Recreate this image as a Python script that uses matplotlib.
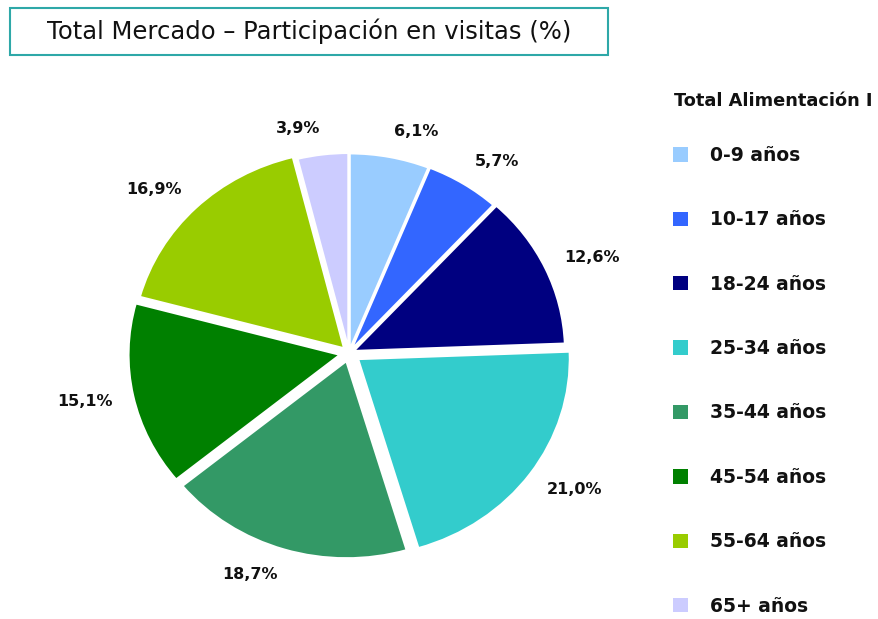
import matplotlib
matplotlib.use("Agg")
import matplotlib.pyplot as plt
from matplotlib.patches import Rectangle, Patch

categories = ["0-9 años", "10-17 años", "18-24 años", "25-34 años",
              "35-44 años", "45-54 años", "55-64 años", "65+ años"]
values = [6.1, 5.7, 12.6, 21.0, 18.7, 15.1, 16.9, 3.9]
value_labels = ["6,1%", "5,7%", "12,6%", "21,0%", "18,7%", "15,1%", "16,9%", "3,9%"]
colors = ["#99CCFF", "#3366FF", "#000080", "#33CCCC",
          "#339966", "#008000", "#99CC00", "#CCCCFF"]
title = "Total Mercado – Participación en visitas (%)"
legend_title = "Total Alimentación I"

plt.rcParams['font.family'] = ['DejaVu Sans']

W, H = 879, 619
fig = plt.figure(figsize=(W / 100, H / 100), dpi=100)
fig.patch.set_facecolor("white")

# pie axes: center (349,353) px, 212.5 px per x unit, 198 px per y unit
cx, cy, sx, sy, lim = 349, 353, 212.5, 198, 1.3
ax = fig.add_axes([(cx - lim * sx) / W, (H - cy - lim * sy) / H,
                   2 * lim * sx / W, 2 * lim * sy / H])

explode = [0.01, 0.012, 0.02, 0.05, 0.04, 0.04, 0.03, 0.012]
wedges, texts = ax.pie(values, labels=value_labels, colors=colors,
                       startangle=90, counterclock=False,
                       explode=explode, labeldistance=1.13,
                       wedgeprops=dict(edgecolor="white", linewidth=2),
                       textprops=dict(fontsize=11.5, fontweight="bold", color="#111111"))
ax.set_xlim(-lim, lim)
ax.set_ylim(-lim, lim)
ax.set_aspect("auto")
ax.axis("off")
for t in texts:
    x, y = t.get_position()
    t.set_position((x * 0.97, y))

# title box
fig.patches.append(Rectangle((10 / W, 1 - 55 / H), 598 / W, 47 / H,
                             transform=fig.transFigure, facecolor="white",
                             edgecolor="#2EA8A8", linewidth=1.5))
fig.text(309 / W, 1 - 31 / H, title, ha="center", va="center", fontsize=17.5, color="#111111")

# legend
fig.text(674 / W, 1 - 101 / H, legend_title, ha="left", va="center",
         fontsize=12.8, fontweight="bold", color="#111111")
handles = [Patch(facecolor=c, edgecolor="none") for c in colors]
leg = fig.legend(handles, categories, loc="upper left",
                 bbox_to_anchor=(673 / W, 1 - 146 / H), frameon=False,
                 prop=dict(weight="bold", size=13.5),
                 handlelength=0.8, handleheight=0.8, handletextpad=1.2,
                 labelspacing=2.42, borderaxespad=0, borderpad=0)
for t in leg.get_texts():
    t.set_color("#111111")

fig.savefig("out.png", dpi=100)
